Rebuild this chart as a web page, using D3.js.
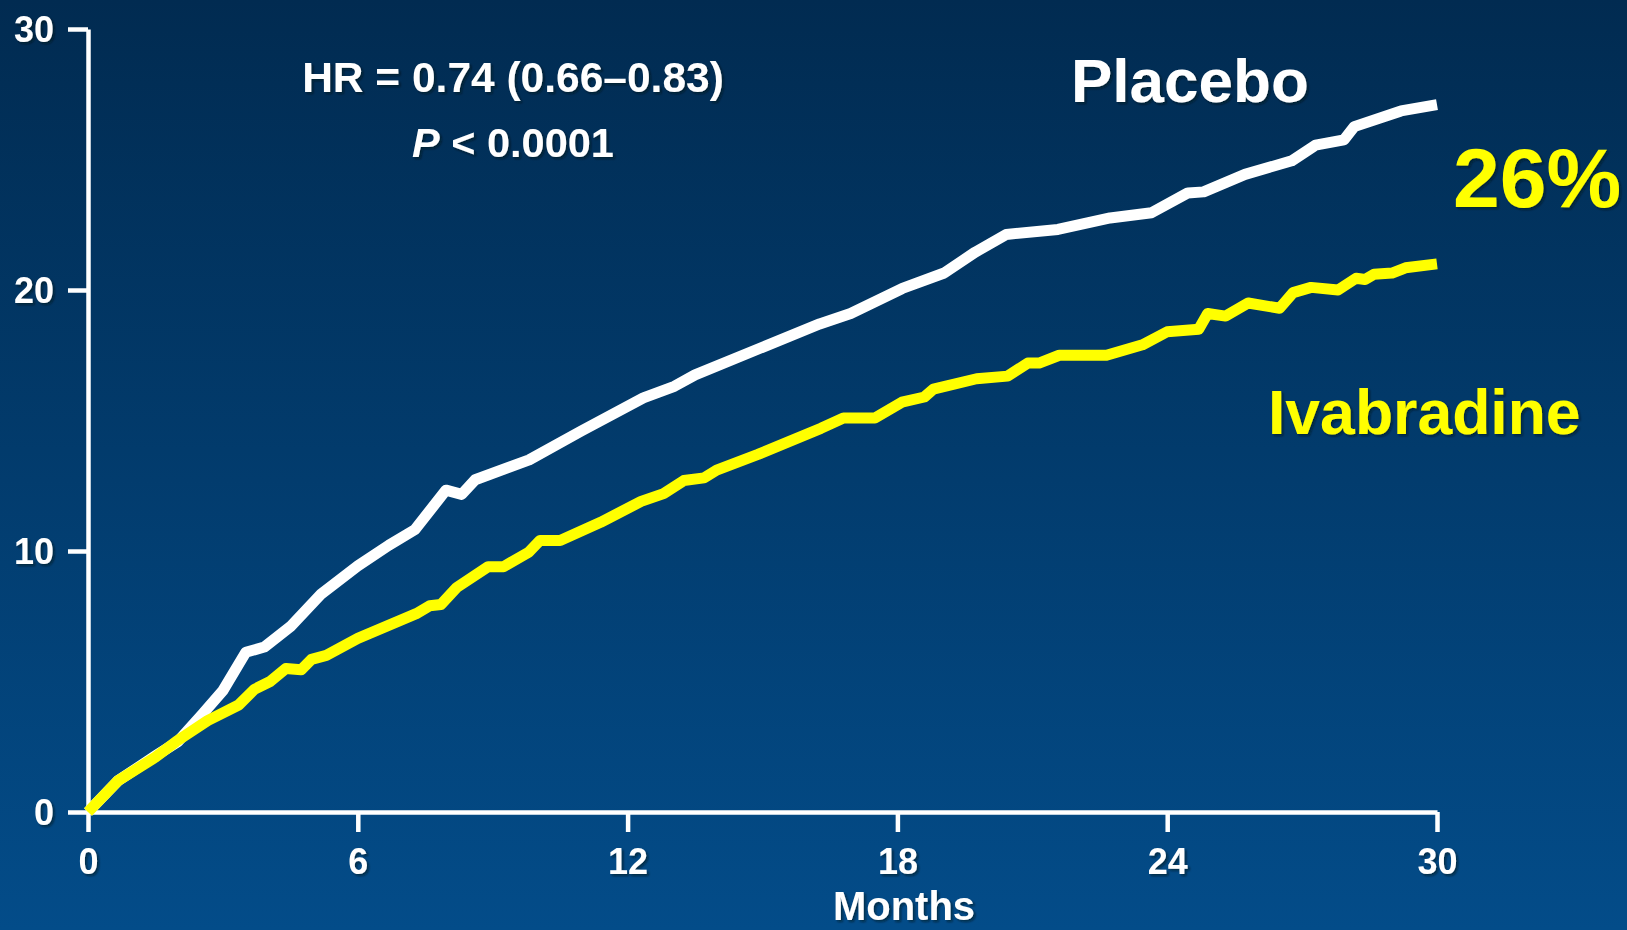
<!DOCTYPE html>
<html>
<head>
<meta charset="utf-8">
<script src="https://cdn.jsdelivr.net/npm/d3@7"></script>
<style>
  html, body { margin: 0; padding: 0; overflow: hidden; }
  body { width: 1627px; height: 930px; }
  svg { display: block; font-family: "Liberation Sans", Arial, sans-serif; font-weight: bold; }
</style>
</head>
<body>
<svg id="chart" width="1627" height="930"></svg>
<script>
// Cumulative event rate (%) over follow-up, by treatment arm
const placeboMonths = [0, 0.67, 1.5, 2.0, 2.54, 3.0, 3.51, 3.92, 4.5, 5.19, 6.0, 6.69, 7.27, 7.96, 8.31, 8.61, 9.81, 10.97, 12.35, 13.04, 13.5, 16.27, 16.96, 18.11, 19.04, 19.73, 20.42, 21.57, 22.73, 23.65, 24.46, 24.81, 25.73, 26.77, 27.3, 27.93, 28.16, 29.2, 30.0];
const placeboRate   = [0, 1.2, 2.15, 2.7, 3.74, 4.65, 6.12, 6.32, 7.1, 8.36, 9.43, 10.22, 10.82, 12.33, 12.17, 12.73, 13.49, 14.6, 15.87, 16.31, 16.75, 18.7, 19.1, 20.06, 20.65, 21.45, 22.13, 22.32, 22.76, 22.96, 23.72, 23.76, 24.43, 24.95, 25.55, 25.75, 26.26, 26.86, 27.1];

const ivabradineMonths = [0, 0.67, 1.5, 1.96, 2.66, 3.35, 3.7, 4.05, 4.4, 4.74, 4.97, 5.3, 6.0, 7.3, 7.6, 7.85, 8.2, 8.9, 9.24, 9.8, 10.05, 10.5, 11.4, 12.3, 12.8, 13.25, 13.7, 13.98, 14.9, 15.6, 16.3, 16.8, 17.5, 18.1, 18.6, 18.8, 19.76, 20.45, 20.9, 21.15, 21.6, 22.65, 23.45, 24.0, 24.7, 24.9, 25.3, 25.8, 26.5, 26.8, 27.2, 27.8, 28.2, 28.4, 28.6, 29.0, 29.3, 30.0];
const ivabradineRate   = [0, 1.2, 2.1, 2.7, 3.5, 4.1, 4.7, 5.0, 5.5, 5.45, 5.85, 6.0, 6.65, 7.6, 7.9, 7.95, 8.6, 9.4, 9.4, 9.95, 10.4, 10.4, 11.1, 11.9, 12.2, 12.7, 12.8, 13.1, 13.7, 14.2, 14.7, 15.1, 15.1, 15.7, 15.9, 16.2, 16.6, 16.7, 17.2, 17.2, 17.5, 17.5, 17.9, 18.4, 18.5, 19.1, 19.0, 19.5, 19.3, 19.9, 20.1, 20.0, 20.45, 20.4, 20.6, 20.65, 20.85, 21.0];

const xTicks = [0, 6, 12, 18, 24, 30];
const yTicks = [0, 10, 20, 30];

const hrLabel = "HR = 0.74 (0.66\u20130.83)";
const pLabel = ["P", " < 0.0001"];
const reductionLabel = "26%";
const xTitle = "Months";

const svg = d3.select("#chart");
const W = 1627, H = 930;

// Background gradient: dark navy at the top, brighter blue below
const defs = svg.append("defs");
const grad = defs.append("linearGradient")
  .attr("id", "bg").attr("x1", 0).attr("y1", 0).attr("x2", 0).attr("y2", 1);
grad.append("stop").attr("offset", "0%").attr("stop-color", "#012b51");
grad.append("stop").attr("offset", "100%").attr("stop-color", "#034c89");

const shadow = defs.append("filter").attr("id", "txtShadow")
  .attr("x", "-10%").attr("y", "-20%").attr("width", "130%").attr("height", "150%");
shadow.append("feDropShadow")
  .attr("dx", 2).attr("dy", 2).attr("stdDeviation", 1.2)
  .attr("flood-color", "#000814").attr("flood-opacity", 0.55);

svg.append("rect").attr("width", W).attr("height", H).attr("fill", "url(#bg)");

const x = d3.scaleLinear().domain([0, 30]).range([88, 1437]);
const y = d3.scaleLinear().domain([0, 30]).range([812, 29]);

// Axes
const xAxis = svg.append("g")
  .attr("transform", `translate(0,${y(0)})`)
  .call(d3.axisBottom(x).tickValues(xTicks).tickSize(20).tickSizeOuter(0).tickPadding(16));
const yAxis = svg.append("g")
  .attr("transform", `translate(${x(0)},0)`)
  .call(d3.axisLeft(y).tickValues(yTicks).tickSize(20).tickSizeOuter(0).tickPadding(14));

[xAxis, yAxis].forEach(g => {
  g.select(".domain").attr("stroke", "#ffffff").attr("stroke-width", 4.5);
  g.selectAll(".tick line").attr("stroke", "#ffffff").attr("stroke-width", 4.5);
  g.selectAll(".tick text")
    .attr("fill", "#ffffff")
    .attr("font-size", 36)
    .attr("font-weight", "bold")
    .attr("font-family", "'Liberation Sans', Arial, sans-serif")
    .attr("filter", "url(#txtShadow)");
});
xAxis.selectAll(".tick text").attr("dy", "0.71em");
yAxis.selectAll(".tick text").attr("dy", "0.36em");

// Curves
const line = d3.line()
  .x(d => x(d[0]))
  .y(d => y(d[1]))
  .curve(d3.curveLinear);

const placebo = d3.zip(placeboMonths, placeboRate);
const ivabradine = d3.zip(ivabradineMonths, ivabradineRate);

svg.append("path")
  .datum(placebo)
  .attr("d", line)
  .attr("fill", "none")
  .attr("stroke", "#ffffff")
  .attr("stroke-width", 11)
  .attr("stroke-linejoin", "round");

svg.append("path")
  .datum(ivabradine)
  .attr("d", line)
  .attr("fill", "none")
  .attr("stroke", "#ffff00")
  .attr("stroke-width", 11)
  .attr("stroke-linejoin", "round");

// Annotations
const txt = svg.append("g").attr("filter", "url(#txtShadow)");

txt.append("text")
  .attr("x", 513).attr("y", 92)
  .attr("text-anchor", "middle")
  .attr("fill", "#ffffff").attr("font-size", 42.5)
  .text(hrLabel);

const p = txt.append("text")
  .attr("x", 513).attr("y", 157)
  .attr("text-anchor", "middle")
  .attr("fill", "#ffffff").attr("font-size", 41.5);
p.append("tspan").attr("font-style", "italic").text(pLabel[0]);
p.append("tspan").text(pLabel[1]);

txt.append("text")
  .attr("x", 1071).attr("y", 102)
  .attr("fill", "#ffffff").attr("font-size", 62)
  .text("Placebo");

txt.append("text")
  .attr("x", 1453).attr("y", 207)
  .attr("fill", "#ffff00").attr("font-size", 84)
  .text(reductionLabel);

txt.append("text")
  .attr("x", 1268).attr("y", 434)
  .attr("fill", "#ffff00").attr("font-size", 62.5)
  .text("Ivabradine");

txt.append("text")
  .attr("x", 904).attr("y", 920)
  .attr("text-anchor", "middle")
  .attr("fill", "#ffffff").attr("font-size", 40)
  .text(xTitle);
</script>
</body>
</html>
